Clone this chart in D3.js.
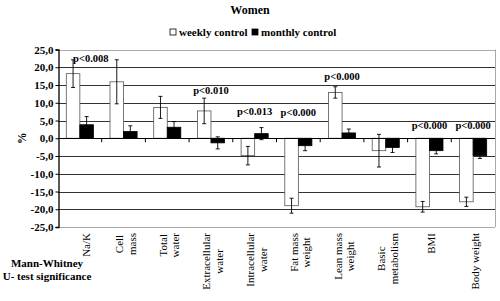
<!DOCTYPE html>
<html>
<head>
<meta charset="utf-8">
<script src="https://cdn.jsdelivr.net/npm/d3@7"></script>
<style>
  body { margin: 0; background: #fff; }
</style>
</head>
<body>
<svg id="chart"></svg>
<script>
const width = 500;
const height = 301;
const serif = 'Liberation Serif';
const margin = { top: 49.5, right: 3, bottom: 74, left: 58 };

const categories = ["Na/K", "Cell\nmass", "Total\nwater", "Extracellular\nwater", "Intracellular\nwater",
    "Fat mass\nweight", "Lean mass\nweight", "Basic\nmetabolism", "BMI", "Body weight"];
const weekly = [18.2, 15.9, 8.7, 7.7, -4.9, -19.0, 12.9, -3.5, -19.3, -17.9];
const weeklyErr = [3.9, 6.2, 3.1, 3.6, 2.6, 2.1, 1.6, 4.6, 1.5, 1.3];
const monthly = [3.8, 1.9, 3.1, -1.3, 1.3, -2.1, 1.5, -2.6, -3.5, -4.9];
const monthlyErr = [2.3, 1.6, 1.6, 1.7, 1.7, 1.4, 1.1, 1.4, 0.9, 0.8];
const series = ["weekly control", "monthly control"];
const yTicks = [25, 20, 15, 10, 5, 0, -5, -10, -15, -20, -25];

// significance labels: category index, text, value level
const pIndex = [0, 3, 4, 5, 6, 8, 9];
const pText = ["p<0.008", "p<0.010", "p<0.013", "p<0.000", "p<0.000", "p<0.000", "p<0.000"];
const pLevel = [22.6, 13.5, 7.7, 7.4, 17.5, 3.6, 3.6];

const svg = d3.select('#chart')
    .attr('width', width)
    .attr('height', height)
    .attr('font-family', serif);

const plotW = width - margin.left - margin.right - 2;
const plotH = 227 - margin.top;

const x = d3.scaleBand()
    .domain(categories)
    .range([margin.left, margin.left + plotW])
    .paddingInner(0.38)
    .paddingOuter(0.19);

const xSub = d3.scaleBand()
    .domain(series)
    .range([0, x.bandwidth()]);

const y = d3.scaleLinear()
    .domain([-25, 25])
    .range([margin.top + plotH, margin.top]);

const fmt = v => d3.format('.1f')(v).replace('.', ',').replace('−', '-');

// title
svg.append('text')
    .attr('x', 250)
    .attr('y', 14)
    .attr('text-anchor', 'middle')
    .attr('font-family', serif)
    .attr('font-size', 12)
    .attr('font-weight', 'bold')
    .text('Women');

// legend
const legend = svg.append('g').attr('transform', 'translate(170,29)');
series.forEach((s, i) => {
    const g = legend.append('g').attr('transform', `translate(${i * 82},0)`);
    g.append('rect')
        .attr('width', 6).attr('height', 6)
        .attr('fill', i === 0 ? '#fff' : '#000')
        .attr('stroke', '#000').attr('stroke-width', 0.8);
    g.append('text')
        .attr('x', 9).attr('y', 6.5)
        .attr('font-family', serif)
        .attr('font-size', 11)
        .attr('font-weight', 'bold')
        .text(s);
});

// grid lines
svg.append('g')
    .selectAll('line')
    .data(yTicks)
    .join('line')
    .attr('x1', margin.left)
    .attr('x2', margin.left + plotW)
    .attr('y1', d => Math.round(y(d)) + 0.5)
    .attr('y2', d => Math.round(y(d)) + 0.5)
    .attr('stroke', d => (d === 25 || d === -25) ? '#aaa' : '#333')
    .attr('stroke-width', 1.2);

// right border
svg.append('line')
    .attr('x1', margin.left + plotW + 0.5).attr('x2', margin.left + plotW + 0.5)
    .attr('y1', y(25)).attr('y2', y(-25))
    .attr('stroke', '#aaa');

// y axis
const yAxis = svg.append('g')
    .attr('transform', `translate(${margin.left + 0.5},0)`)
    .call(d3.axisLeft(y).tickValues(yTicks).tickSize(3).tickFormat(fmt));
yAxis.select('.domain').attr('stroke', '#000').attr('stroke-width', 1.3);
yAxis.selectAll('text')
    .attr('font-family', serif)
    .attr('font-size', 11)
    .attr('font-weight', 'bold')
    .attr('x', -5)
    .attr('fill', '#000');

svg.append('text')
    .attr('transform', `translate(26,${y(0)})rotate(-90)`)
    .attr('text-anchor', 'middle')
    .attr('font-family', serif)
    .attr('font-size', 11.5)
    .attr('font-weight', 'bold')
    .text('%');

// bars
const groups = svg.append('g')
    .selectAll('g')
    .data(categories.map((c, i) => ({
        cat: c,
        vals: [
            { s: series[0], v: weekly[i], e: weeklyErr[i] },
            { s: series[1], v: monthly[i], e: monthlyErr[i] }
        ]
    })))
    .join('g')
    .attr('transform', d => `translate(${x(d.cat)},0)`);

groups.selectAll('rect')
    .data(d => d.vals)
    .join('rect')
    .attr('x', d => xSub(d.s))
    .attr('width', xSub.bandwidth())
    .attr('y', d => y(Math.max(0, d.v)))
    .attr('height', d => Math.abs(y(d.v) - y(0)))
    .attr('fill', d => d.s === series[0] ? '#fff' : '#000')
    .attr('stroke', d => d.s === series[0] ? '#555' : '#000')
    .attr('stroke-width', 0.8);

// error bars
const err = groups.selectAll('g.err')
    .data(d => d.vals)
    .join('g')
    .attr('class', 'err')
    .attr('transform', d => `translate(${xSub(d.s) + xSub.bandwidth() / 2},0)`)
    .attr('stroke', '#000')
    .attr('stroke-width', 0.9);
err.append('line')
    .attr('y1', d => y(d.v - d.e))
    .attr('y2', d => y(d.v + d.e));
err.selectAll('line.cap')
    .data(d => [d.v - d.e, d.v + d.e])
    .join('line')
    .attr('class', 'cap')
    .attr('x1', -2).attr('x2', 2)
    .attr('y1', d => y(d)).attr('y2', d => y(d));

// zero line again on top, with category ticks
svg.append('line')
    .attr('x1', margin.left).attr('x2', margin.left + plotW)
    .attr('y1', Math.round(y(0)) + 0.5).attr('y2', Math.round(y(0)) + 0.5)
    .attr('stroke', '#000').attr('stroke-width', 1.2);
svg.append('g')
    .selectAll('line')
    .data(categories.slice(1))
    .join('line')
    .attr('x1', d => x(d) - x.step() * x.paddingInner() / 2)
    .attr('x2', d => x(d) - x.step() * x.paddingInner() / 2)
    .attr('y1', y(0))
    .attr('y2', y(0) + 4)
    .attr('stroke', '#000');

// p-value labels
svg.append('g')
    .selectAll('text')
    .data(pIndex)
    .join('text')
    .attr('font-family', serif)
    .attr('font-size', 10.5)
    .attr('font-weight', 'bold')
    .attr('x', (d, i) => x(categories[d]) + x.bandwidth() / 2 + (d === 0 ? 11 : 0))
    .attr('y', (d, i) => y(pLevel[i]))
    .attr('dy', '0.35em')
    .attr('text-anchor', 'middle')
    .text((d, i) => pText[i]);

// category labels, rotated
const labelTop = 233;
categories.forEach((c, ci) => {
    const lines = c.split('\n');
    const g = svg.append('g');
    const texts = lines.map(ln => g.append('text')
        .attr('font-family', serif)
        .attr('font-size', 11)
        .attr('text-anchor', 'middle')
        .text(ln));
    const maxLen = d3.max(texts, t => t.node().getComputedTextLength());
    const cx = x(c) + x.bandwidth() / 2 + 6 - (lines.length - 1) * 6.5 + (ci === 0 ? 4 : 0);
    texts.forEach((t, j) => {
        t.attr('transform', `translate(${cx + j * 12.5},${labelTop + maxLen / 2})rotate(-90)`);
    });
});

// test note
svg.append('text')
    .attr('x', 47).attr('y', 267)
    .attr('text-anchor', 'middle')
    .attr('font-family', serif)
    .attr('font-size', 11)
    .attr('font-weight', 'bold')
    .text('Mann-Whitney');
svg.append('text')
    .attr('x', 47).attr('y', 280)
    .attr('text-anchor', 'middle')
    .attr('font-family', serif)
    .attr('font-size', 11)
    .attr('font-weight', 'bold')
    .text('U- test significance');
</script>
</body>
</html>
